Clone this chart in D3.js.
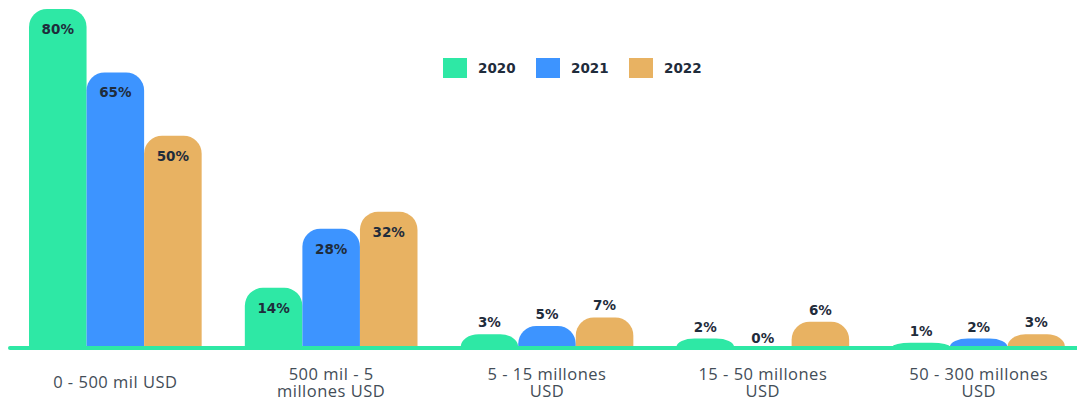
<!DOCTYPE html>
<html>
<head>
<meta charset="utf-8">
<script src="https://cdn.jsdelivr.net/npm/d3@7"></script>
<style>
  body { margin: 0; background: #fff; }
  svg { display: block; }
</style>
</head>
<body>
<div id="chart"></div>
<script>
const categories = [
    ["0 - 500 mil USD"],
    ["500 mil - 5", "millones USD"],
    ["5 - 15 millones", "USD"],
    ["15 - 50 millones", "USD"],
    ["50 - 300 millones", "USD"]
];
const years = ["2020", "2021", "2022"];
const values2020 = [80, 14, 3, 2, 1];
const values2021 = [65, 28, 5, 0, 2];
const values2022 = [50, 32, 7, 6, 3];

const colors = ["#2ee8a5", "#3d94ff", "#e8b262"];

const width = 1077;
const height = 401;
const baseline = 347;

let dataSet = categories.map((c, i) => ({
    cat: i,
    vals: [values2020[i], values2021[i], values2022[i]]
}));

const svg = d3.select("#chart")
    .append("svg")
    .attr("width", width)
    .attr("height", height);

const x0 = d3.scaleBand()
    .domain(d3.range(categories.length))
    .range([29, 1065])
    .paddingInner(0.2)
    .paddingOuter(0);

const x1 = d3.scaleBand()
    .domain(years)
    .range([0, x0.bandwidth()])
    .padding(0);

const y = d3.scaleLinear()
    .domain([0, d3.max(values2020)])
    .range([baseline, 9]);

const color = d3.scaleOrdinal(years, colors);

// bar with rounded top, flattened dome when shorter than the radius
let barPath = function(x, top, w) {
    const h = baseline - top;
    if (h <= 0) return "";
    const r = 18;
    const ry = Math.min(r, h);
    return `M${x},${baseline}` +
        `V${top + ry}` +
        `A${r},${ry} 0 0 1 ${x + r},${top}` +
        `H${x + w - r}` +
        `A${r},${ry} 0 0 1 ${x + w},${top + ry}` +
        `V${baseline}Z`;
}

const groups = svg.selectAll(".grp")
    .data(dataSet)
    .enter()
    .append("g")
    .attr("class", "grp")
    .attr("transform", d => `translate(${x0(d.cat)},0)`);

const bars = groups.selectAll("g")
    .data(d => d.vals.map((v, k) => ({ year: years[k], v: v })))
    .enter()
    .append("g");

bars.append("path")
    .attr("d", d => barPath(x1(d.year), y(d.v), x1.bandwidth()))
    .attr("fill", d => color(d.year));

bars.append("text")
    .attr("x", d => x1(d.year) + x1.bandwidth() / 2)
    .attr("y", d => {
        if (d.v === 0) return baseline - 8;
        return d.v >= 10 ? y(d.v) + 21 : y(d.v) - 11;
    })
    .attr("text-anchor", "middle")
    .attr("dominant-baseline", "middle")
    .style("font-family", "'DejaVu Sans', sans-serif")
    .style("font-weight", "bold")
    .style("font-size", "13.5px")
    .attr("fill", "#1f2c3b")
    .text(d => `${d.v}%`);

// baseline
svg.append("line")
    .attr("x1", 10)
    .attr("x2", width + 5)
    .attr("y1", baseline + 1)
    .attr("y2", baseline + 1)
    .attr("stroke", colors[0])
    .attr("stroke-width", 4)
    .attr("stroke-linecap", "round");

// category labels
const labels = svg.selectAll(".cat")
    .data(categories)
    .enter()
    .append("text")
    .attr("class", "cat")
    .attr("text-anchor", "middle")
    .style("font-family", "'Open Sans', sans-serif")
    .style("font-size", "16.5px")
    .style("letter-spacing", "0.5px")
    .attr("fill", "#434d57");

labels.each(function(lines, i) {
    const t = d3.select(this);
    const lh = 17;
    const y0 = 388 - (lines.length - 1) * lh / 2;
    lines.forEach((ln, j) => {
        t.append("tspan")
            .attr("x", x0(i) + x0.bandwidth() / 2)
            .attr("y", y0 + j * lh)
            .text(ln);
    });
});

// legend
const legend = svg.selectAll(".leg")
    .data(years)
    .enter()
    .append("g")
    .attr("class", "leg")
    .attr("transform", (d, i) => `translate(${443 + i * 93},58)`);

legend.append("rect")
    .attr("width", 24)
    .attr("height", 20)
    .attr("fill", d => color(d));

legend.append("text")
    .attr("x", 35)
    .attr("y", 11)
    .attr("dominant-baseline", "middle")
    .style("font-family", "'DejaVu Sans', sans-serif")
    .style("font-weight", "bold")
    .style("font-size", "13.5px")
    .attr("fill", "#1f2c3b")
    .text(d => d);
</script>
</body>
</html>
